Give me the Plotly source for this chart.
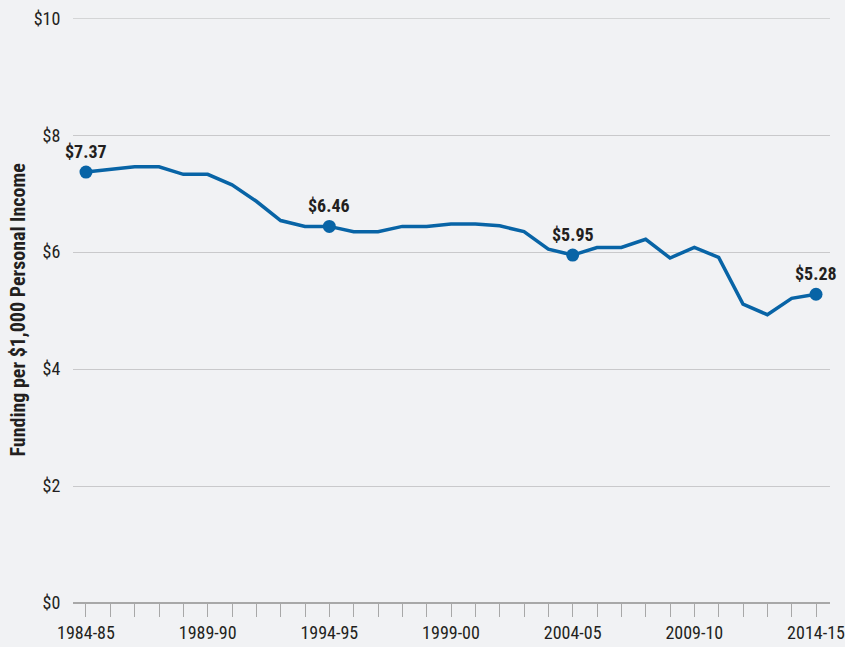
import plotly.graph_objects as go

years = ["1984-85","1985-86","1986-87","1987-88","1988-89","1989-90","1990-91","1991-92",
         "1992-93","1993-94","1994-95","1995-96","1996-97","1997-98","1998-99","1999-00",
         "2000-01","2001-02","2002-03","2003-04","2004-05","2005-06","2006-07","2007-08",
         "2008-09","2009-10","2010-11","2011-12","2012-13","2013-14","2014-15"]
funding = [7.37, 7.41, 7.46, 7.46, 7.33, 7.33, 7.15, 6.87, 6.54, 6.44, 6.44,
           6.35, 6.35, 6.44, 6.44, 6.48, 6.48, 6.45, 6.35, 6.05, 5.95,
           6.08, 6.08, 6.22, 5.90, 6.08, 5.91, 5.11, 4.93, 5.21, 5.28]
label_years = ["1984-85", "1994-95", "2004-05", "2014-15"]
label_texts = ["$7.37", "$6.46", "$5.95", "$5.28"]
y_ticks = [0, 2, 4, 6, 8, 10]
y_tick_text = ["$0", "$2", "$4", "$6", "$8", "$10"]
x_tick_labels = ["1984-85", "1989-90", "1994-95", "1999-00", "2004-05", "2009-10", "2014-15"]

FONT = "Liberation Sans Narrow, Roboto Condensed, Arial Narrow, Liberation Sans, sans-serif"
BLUE = "#0864a6"
TEXT = "#231f20"
BG = "#f1f2f4"
GRID = "#c9c9cb"

idx = list(range(len(years)))
lab_idx = [years.index(y) for y in label_years]
lab_vals = [funding[i] for i in lab_idx]

fig = go.Figure()
# top gridline (plotly drops gridlines sitting on the plot edge)
fig.add_shape(type="line", xref="paper", yref="y", x0=0, x1=1,
              y0=max(y_ticks), y1=max(y_ticks), line=dict(color=GRID, width=1), layer="below")
fig.add_trace(go.Scatter(x=idx, y=funding, mode="lines",
                         line=dict(color=BLUE, width=3.5), hoverinfo="skip"))
fig.add_trace(go.Scatter(x=lab_idx, y=lab_vals, mode="markers",
                         marker=dict(color=BLUE, size=13), hoverinfo="skip"))

for i, v, t in zip(lab_idx, lab_vals, label_texts):
    fig.add_annotation(x=i, y=v, text=f"<b>{t}</b>", showarrow=False,
                       yshift=21, font=dict(family=FONT, size=18, color=TEXT))

fig.add_annotation(xref="paper", yref="paper", x=-(73 - 17) / 757, y=0.5,
                   text="<b>Funding per $1,000 Personal Income</b>", textangle=-90,
                   showarrow=False, xanchor="center", yanchor="middle",
                   font=dict(family=FONT, size=20, color=TEXT))

fig.update_layout(
    template="none",
    width=845, height=647, autosize=False,
    margin=dict(l=73, r=15, t=18, b=44),
    paper_bgcolor=BG, plot_bgcolor=BG,
    showlegend=False,
    xaxis=dict(range=[-0.534, 30.575], tickvals=idx,
               ticktext=[y if y in x_tick_labels else "" for y in years],
               ticks="outside", ticklen=13, tickwidth=1, tickcolor="#a8a8a8",
               showgrid=False, zeroline=False, showline=False,
               automargin=False, ticklabeloverflow="allow",
               tickfont=dict(family=FONT, size=18, color=TEXT), fixedrange=True),
    yaxis=dict(range=[0, 10.004], tickvals=y_ticks, ticktext=y_tick_text,
               ticks="outside", ticklen=8, tickcolor="rgba(0,0,0,0)",
               showgrid=True, gridcolor=GRID, gridwidth=1,
               zeroline=True, zerolinecolor="#a8a8a8", zerolinewidth=2,
               showline=False, automargin=False, ticklabeloverflow="allow",
               tickfont=dict(family=FONT, size=18, color=TEXT), fixedrange=True),
)

fig.write_html("out.html", config={"displayModeBar": False},
               post_script="document.body.style.margin='0';document.body.style.overflow='hidden';")
